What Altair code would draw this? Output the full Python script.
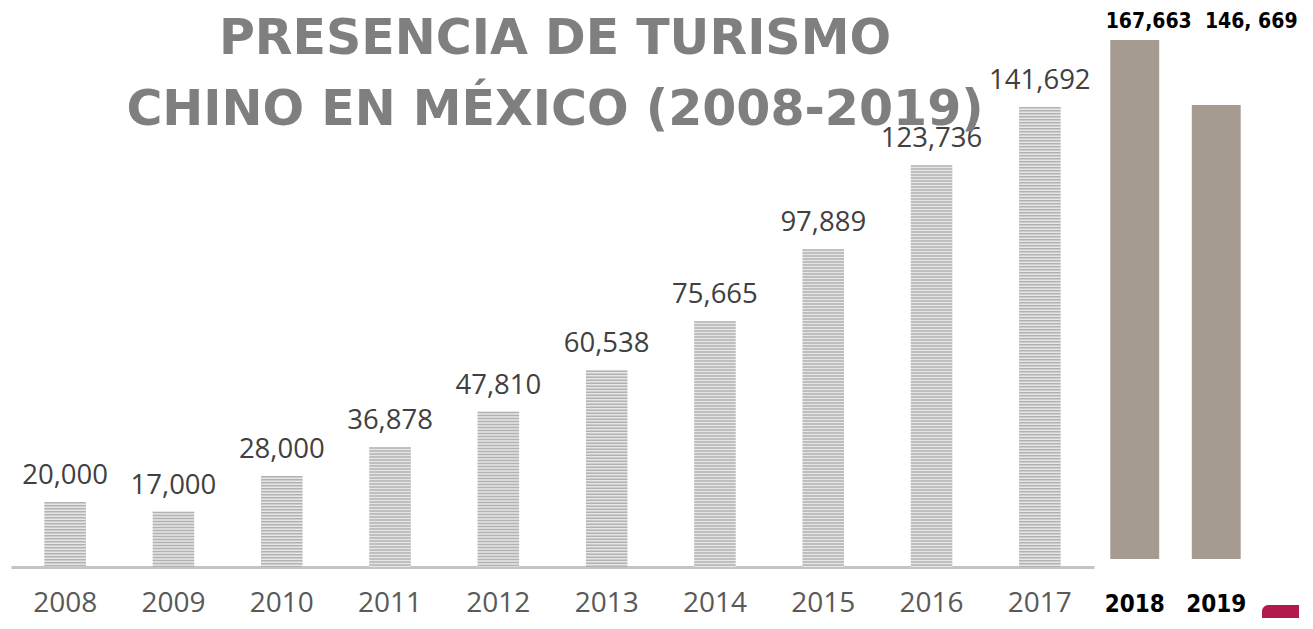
import altair as alt
import pandas as pd

# ---- data ----
years = ["2008", "2009", "2010", "2011", "2012", "2013", "2014", "2015", "2016", "2017"]
visitors = [20000, 17000, 28000, 36878, 47810, 60538, 75665, 97889, 123736, 141692]

years_late = ["2018", "2019"]
visitors_late = [167663, 146669]
labels_late = ["167,663", "146, 669"]

title_lines = ["PRESENCIA DE TURISMO", "CHINO EN MÉXICO (2008-2019)"]

df = pd.DataFrame({"year": years, "visitors": visitors})
df_late = pd.DataFrame({"year": years_late, "visitors": visitors_late, "label": labels_late})
one = pd.DataFrame({"k": [0]})

NARROW = "'Liberation Sans Narrow', 'DejaVu Sans Condensed', 'Arial Narrow', sans-serif"

# ---- left panel: 2008-2017 ----
x_left = alt.X(
    "year:N",
    sort=years,
    scale=alt.Scale(paddingInner=0.617, paddingOuter=0.3085),
    axis=alt.Axis(
        title=None, labelAngle=0, ticks=False, grid=False,
        domain=True, domainColor="#c4c4c4", domainWidth=3,
        labelFont="Open Sans", labelFontSize=28, labelColor="#595959",
        labelBaseline="alphabetic", labelPadding=44,
    ),
)
y_left = alt.Y("visitors:Q", scale=alt.Scale(domain=[0, 172188]), axis=None)

base = alt.Chart(df).encode(x=x_left)
bars_bg = base.mark_bar(color="#e6e6e6").encode(y=y_left)
stripes = base.mark_rule(
    color="#b2b2b2", strokeWidth=41.5, strokeDash=[1.5, 1.5], strokeCap="butt"
).encode(y=y_left, y2=alt.datum(0))
values = base.mark_text(
    baseline="alphabetic", dy=-18, font="Open Sans", fontSize=27.5, color="#404040"
).encode(y=y_left, text=alt.Text("visitors:Q", format=","))

title = alt.Chart(one).mark_text(
    font="DejaVu Sans", fontWeight="bold", fontSize=49, color="#7f7f7f",
    align="center", baseline="alphabetic", lineHeight=71,
).encode(x=alt.value(544), y=alt.value(46), text=alt.value(title_lines))

left = alt.layer(bars_bg, stripes, values, title).properties(width=1083, height=559)

# ---- right panel: 2018-2019 ----
x_right = alt.X(
    "year:N",
    sort=years_late,
    scale=alt.Scale(paddingInner=0.4, paddingOuter=0.2),
    axis=alt.Axis(
        title=None, labelAngle=0, ticks=False, grid=False, domain=False,
        labelFont=NARROW, labelFontWeight="bold",
        labelFontSize=24, labelColor="#000000",
        labelBaseline="alphabetic", labelPadding=52,
    ),
)
y_right = alt.Y("visitors:Q", scale=alt.Scale(domain=[0, 178000]), axis=None)

rbase = alt.Chart(df_late).encode(x=x_right)
rbars = rbase.mark_bar(color="#a59b91").encode(y=y_right)
rtext_a = rbase.transform_filter(alt.datum.year == "2018").mark_text(
    font=NARROW, fontWeight="bold", fontSize=21, color="#000000",
    baseline="alphabetic", dx=14,
).encode(y=alt.value(20), text="label:N")
rtext_b = rbase.transform_filter(alt.datum.year == "2019").mark_text(
    font=NARROW, fontWeight="bold", fontSize=21, color="#000000",
    baseline="alphabetic", dx=35,
).encode(y=alt.value(20), text="label:N")

corner = alt.Chart(one).mark_rect(color="#b2194e", cornerRadiusTopLeft=14).encode(
    x=alt.value(168), x2=alt.value(205), y=alt.value(597), y2=alt.value(610)
)

right = alt.layer(rbars, rtext_a, rtext_b, corner).properties(width=163, height=551)

chart = (
    alt.hconcat(left, right, spacing=0)
    .properties(padding={"left": 3, "top": 0, "right": 0, "bottom": 0}, background="white")
    .configure_view(stroke=None)
)

chart.save("out.html", embed_options={"renderer": "svg", "actions": False})
